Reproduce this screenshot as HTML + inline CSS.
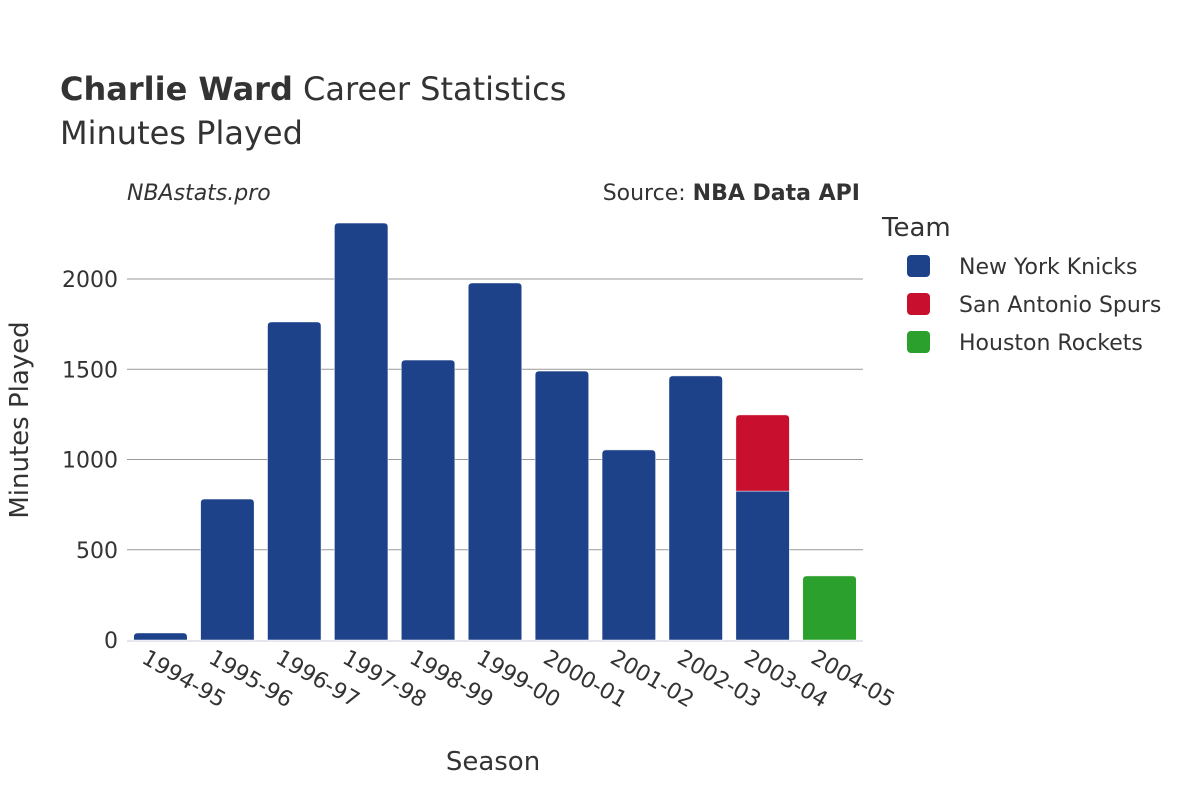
<!DOCTYPE html>
<html><head><meta charset="utf-8"><style>
body{margin:0;background:#fff;}
svg{display:block;font-family:"DejaVu Sans","Liberation Sans",sans-serif;}
</style></head><body>
<svg id="chart" width="1200" height="800">
<text x="60" y="100" font-size="32" fill="#333"><tspan font-weight="bold">Charlie Ward</tspan> Career Statistics</text>
<text x="60" y="144" font-size="32" fill="#333">Minutes Played</text>
<text x="127" y="200" font-size="22" font-style="italic" fill="#333">NBAstats.pro</text>
<text x="860" y="200" font-size="22" fill="#333" text-anchor="end">Source: <tspan font-weight="bold">NBA Data API</tspan></text>
<g id="grid"></g>
<g id="bars"></g>
<g id="xt"></g>
<text x="493" y="770" font-size="26" fill="#333" text-anchor="middle">Season</text>
<text transform="translate(28,420) rotate(-90)" font-size="26" fill="#333" text-anchor="middle">Minutes Played</text>
<text x="882" y="236" font-size="26" fill="#333">Team</text>
<g id="legend"></g>
</svg>
<script>
const seasons=["1994-95","1995-96","1996-97","1997-98","1998-99","1999-00","2000-01","2001-02","2002-03","2003-04","2004-05"];
const nyk=[39,781,1762,2310,1551,1978,1490,1053,1463,825,0];
const sas=[0,0,0,0,0,0,0,0,0,422,0];
const hou=[0,0,0,0,0,0,0,0,0,0,355];
const yTicks=[0,500,1000,1500,2000];
const teams=["New York Knicks","San Antonio Spurs","Houston Rockets"];
const colors=["#1d428a","#c8102e","#2ca02c"];
const NS="http://www.w3.org/2000/svg";
const x0=127,x1=863,yBase=640,yScale=361/2000;
const y=v=>yBase-v*yScale;
const band=(x1-x0)/seasons.length;
const bx=i=>x0+i*band+band*0.1;
function mk(t,a,p){const e=document.createElementNS(NS,t);for(const k in a)e.setAttribute(k,a[k]);p.appendChild(e);return e;}
const grid=document.getElementById('grid');
yTicks.forEach(v=>{
 if(v>0){const l=mk('line',{x1:x0,x2:x1,y1:y(v),y2:y(v),stroke:'#999','stroke-width':1},grid);
 
 }
 const t=mk('text',{x:118,y:y(v)+8,'font-size':22,fill:'#333','text-anchor':'end'},grid);t.textContent=v;
 
 
});
const base=mk('line',{x1:x0,x2:x1,y1:yBase+1,y2:yBase+1,stroke:'#e5e5ee','stroke-width':2},grid);


const bars=document.getElementById('bars');
const series=[nyk,sas,hou];
seasons.forEach((s,i)=>{
 let acc=0;
 series.forEach((arr,k)=>{
  const v=arr[i];if(!v)return;
  const r=mk('path',{},bars);
  const w=band*0.8,xl=bx(i),top=y(acc+v),bot=y(acc);
  const isTop=series.slice(k+1).every(a=>!a[i]);
  const rr=isTop?4:0;
  r.setAttribute('d',`M${xl},${bot}V${top+rr}Q${xl},${top} ${xl+rr},${top}H${xl+w-rr}Q${xl+w},${top} ${xl+w},${top+rr}V${bot}Z`);
  r.setAttribute('fill',colors[k]);
  r.setAttribute('stroke','#fff');r.setAttribute('stroke-width','0.5');
  
  
  acc+=v;
 });
 const cx=x0+(i+0.5)*band;
 const t=mk('text',{transform:`translate(${cx-20},${662}) rotate(30)`,'font-size':22,fill:'#333'},document.getElementById('xt'));
 t.textContent=s;
 
 
});
const lg=document.getElementById('legend');
teams.forEach((n,k)=>{
 const g=mk('g',{},lg);
 
 
 const yy=266+k*38;
 mk('rect',{x:907,y:yy-11,width:23,height:22,rx:4,fill:colors[k]},g);
 const t=mk('text',{x:959,y:yy+8,'font-size':22,fill:'#333'},g);t.textContent=n;
});
</script>
</body></html>
